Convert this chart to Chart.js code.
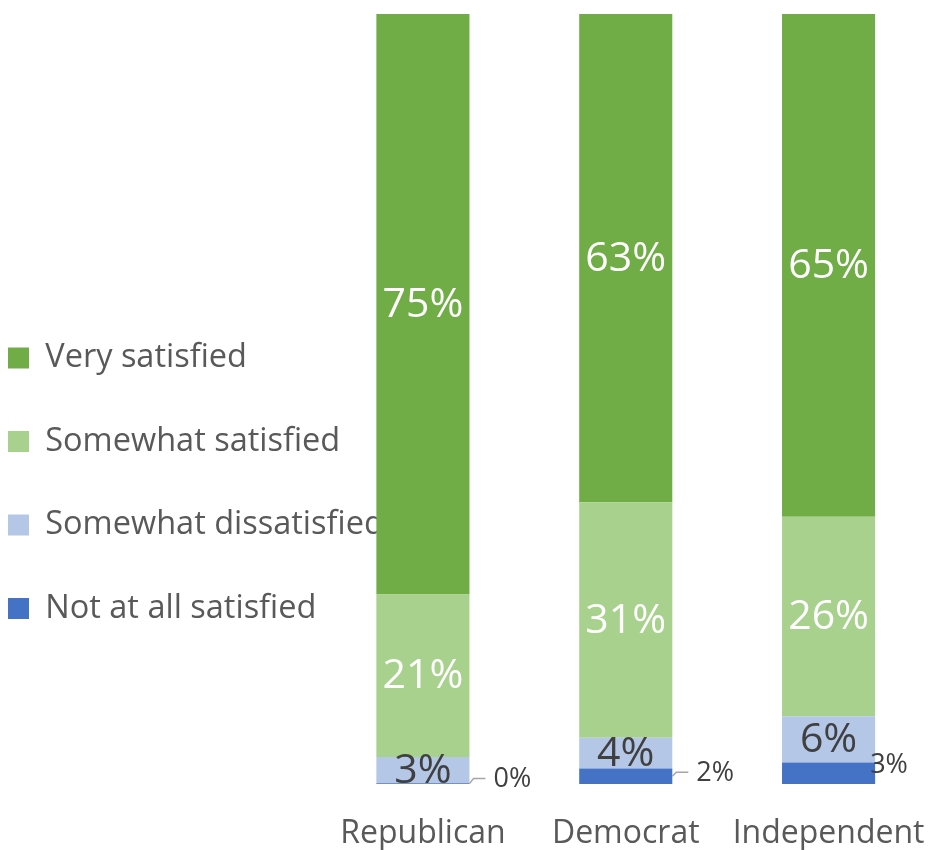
<!DOCTYPE html>
<html><head><meta charset="utf-8">
<script src="https://cdn.jsdelivr.net/npm/chart.js@4.4.1/dist/chart.umd.min.js"></script>
<style>html,body{margin:0;padding:0;background:#fff}</style>
</head><body>
<canvas id="c" width="930" height="850"></canvas>
<script>
// ---- data ----
const categories = ['Republican', 'Democrat', 'Independent'];
const seriesNames = ['Not at all satisfied', 'Somewhat dissatisfied', 'Somewhat satisfied', 'Very satisfied'];
const notAtAllSatisfied = [0.1, 2.0, 2.8];
const somewhatDissatisfied = [3.4, 4.0, 6.0];
const somewhatSatisfied = [21.1, 30.6, 25.9];
const verySatisfied = [75.4, 63.4, 65.3];

// ---- style ----
const seriesColors = ['#4472C4', '#B4C7E7', '#A9D18E', '#70AD47'];
const insideLabelColors = [null, '#404040', '#FFFFFF', '#FFFFFF'];
const outsideLabelStyle = [
  {dx: 24, dy: -4, leader: true},
  {dx: 24, dy: -3, leader: true},
  {dx: -5, dy: -8, leader: false}
];
const FONT = '"Open Sans", "Noto Sans", sans-serif';
Chart.defaults.font.family = FONT;

const seriesValues = [notAtAllSatisfied, somewhatDissatisfied, somewhatSatisfied, verySatisfied];

const labelPlugin = {
  id: 'segLabels',
  afterLayout(chart) {
    // let the legend text run over the plot area, as in the original
    if (chart.legend) { chart.legend.right += 200; chart.legend.width += 200; }
  },
  afterDatasetsDraw(chart) {
    const ctx = chart.ctx;
    ctx.save();
    ctx.textBaseline = 'middle';
    chart.data.datasets.forEach((ds, di) => {
      const meta = chart.getDatasetMeta(di);
      meta.data.forEach((bar, i) => {
        const v = ds.data[i];
        const txt = Math.round(v) + '%';
        const p = bar.getProps(['x', 'y', 'base', 'width'], true);
        const cy = (p.y + p.base) / 2;
        if (di === 0) {
          const right = p.x + p.width / 2;
          const o = outsideLabelStyle[i];
          const ly = cy + o.dy;
          if (o.leader) {
            ctx.strokeStyle = '#A6A6A6';
            ctx.lineWidth = 1.5;
            ctx.beginPath();
            ctx.moveTo(right, cy);
            ctx.lineTo(right + 4, ly - 1);
            ctx.lineTo(right + 16, ly - 1);
            ctx.stroke();
          }
          ctx.font = '27px ' + FONT;
          ctx.fillStyle = '#404040';
          ctx.textAlign = 'left';
          ctx.fillText(txt, right + o.dx, ly);
        } else {
          ctx.font = '41px ' + FONT;
          ctx.fillStyle = insideLabelColors[di];
          ctx.textAlign = 'center';
          ctx.fillText(txt, p.x, cy + 1);
        }
      });
    });
    ctx.restore();
  }
};

new Chart(document.getElementById('c'), {
  type: 'bar',
  data: {
    labels: categories,
    datasets: seriesNames.map((name, k) => ({
      label: name,
      data: seriesValues[k],
      backgroundColor: seriesColors[k],
      borderWidth: 0,
      categoryPercentage: 1,
      barPercentage: 0.459
    }))
  },
  options: {
    responsive: false,
    devicePixelRatio: 1,
    animation: false,
    layout: {padding: {left: -43, top: 14, right: 0, bottom: 0}},
    plugins: {
      tooltip: {enabled: false},
      legend: {
        position: 'left',
        align: 'center',
        reverse: true,
        maxWidth: 364.5,
        title: {display: true, text: ' ', font: {size: 10}, padding: {top: 90.5, bottom: 0}},
        labels: {
          color: '#595959',
          font: {size: 32.5},
          boxWidth: 21,
          boxHeight: 21,
          padding: 51
        }
      }
    },
    scales: {
      x: {
        stacked: true,
        grid: {display: false, drawTicks: false},
        border: {display: false},
        ticks: {color: '#595959', font: {size: 32}, padding: 31},
        afterFit(s) { s.height = 66; s.paddingLeft = 0; s.paddingRight = 0; }
      },
      y: {
        stacked: true,
        display: false,
        min: 0,
        max: 100
      }
    }
  },
  plugins: [labelPlugin]
});
</script>
</body></html>
